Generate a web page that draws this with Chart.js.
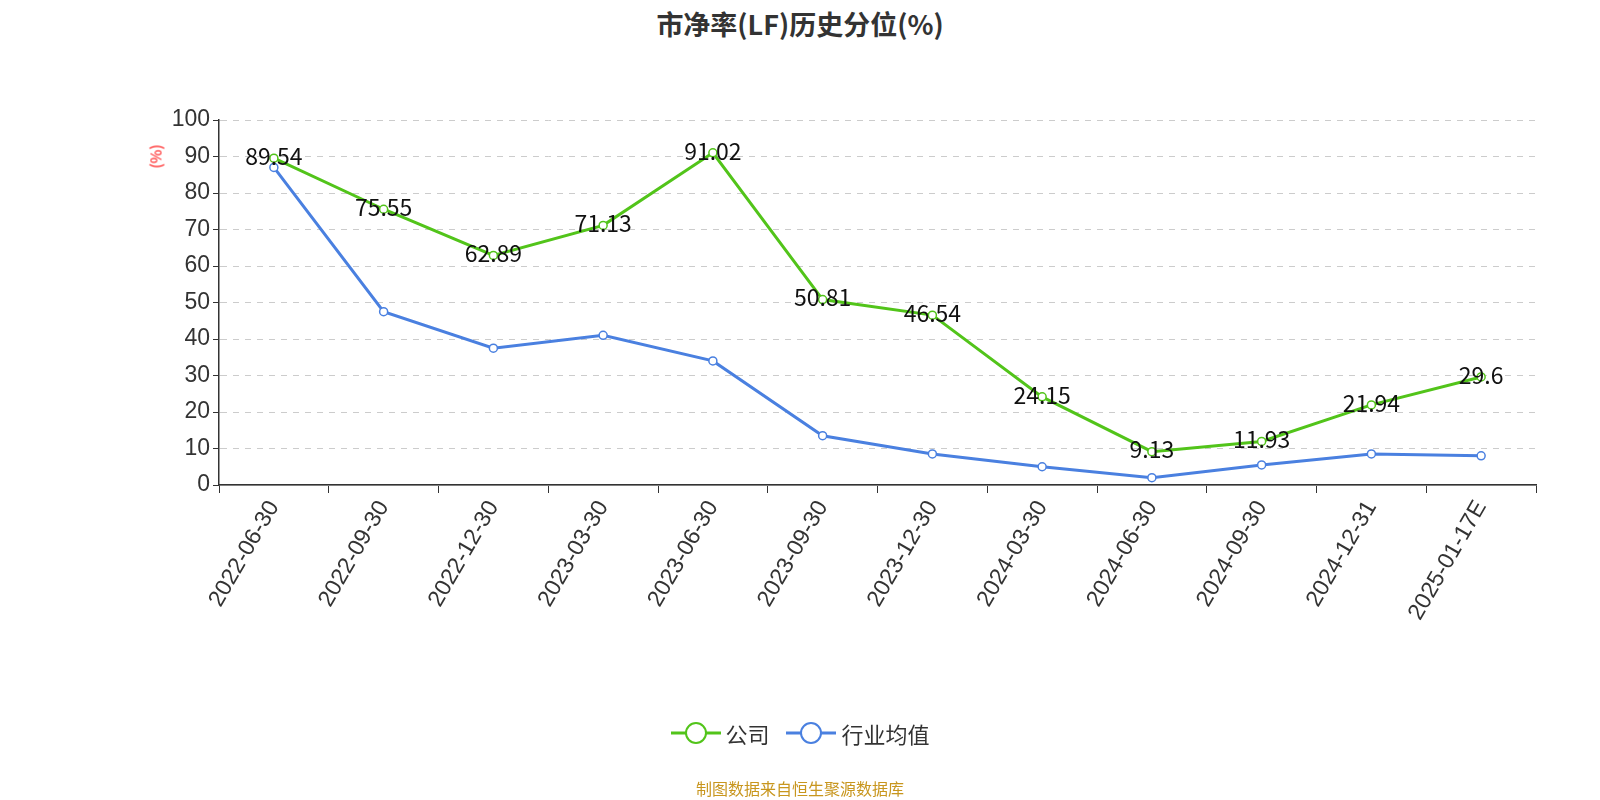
<!DOCTYPE html>
<html><head><meta charset="utf-8">
<script src="https://cdn.jsdelivr.net/npm/chart.js@4/dist/chart.umd.min.js"></script>
<style>
body{margin:0;width:1600px;height:800px;background:#fff;font-family:"Noto Sans CJK SC","Noto Sans",sans-serif;position:relative;overflow:hidden}
#t{position:absolute;top:4px;width:1600px;text-align:center;font-size:27px;font-weight:bold;color:#333}
#lg{position:absolute;top:717px;width:1600px;text-align:center;font-size:22px;color:#333}
#lg span{display:inline-flex;align-items:center;margin:0 6px}
#src{position:absolute;top:776px;width:1600px;text-align:center;font-size:16px;color:#c8961e}
#yl{position:absolute;left:143px;top:146px;color:red;font-size:15px;transform:rotate(-90deg);transform-origin:center}
</style></head><body>
<div id="t">市净率(LF)历史分位(%)</div>
<canvas id="c" width="1600" height="800" style="position:absolute;left:0;top:0"></canvas>
<div id="yl">(%)</div>
<div id="lg">
<span><svg width="50" height="26"><line x1="0" y1="13" x2="50" y2="13" stroke="#52c41a" stroke-width="3"/><circle cx="25" cy="13" r="10" fill="#fff" stroke="#52c41a" stroke-width="2"/></svg>&nbsp;公司</span>
<span><svg width="50" height="26"><line x1="0" y1="13" x2="50" y2="13" stroke="#4a80e0" stroke-width="3"/><circle cx="25" cy="13" r="10" fill="#fff" stroke="#4a80e0" stroke-width="2"/></svg>&nbsp;行业均值</span>
</div>
<div id="src">制图数据来自恒生聚源数据库</div>
<script>
const categories=["2022-06-30","2022-09-30","2022-12-30","2023-03-30","2023-06-30","2023-09-30","2023-12-30","2024-03-30","2024-06-30","2024-09-30","2024-12-31","2025-01-17E"];
const company=[89.54,75.55,62.89,71.13,91.02,50.81,46.54,24.15,9.13,11.93,21.94,29.6];
const industry=[87,47.5,37.5,41,34,13.5,8.5,5,2,5.5,8.5,8];
const labelPlugin={id:'lbl',afterDatasetsDraw(ch){const c=ch.ctx;const m=ch.getDatasetMeta(0);c.save();c.font='23px "Noto Sans CJK SC",sans-serif';c.fillStyle='#111';c.textAlign='center';c.textBaseline='middle';m.data.forEach((p,i)=>c.fillText(String(company[i]),p.x,p.y-2));c.restore();}};
new Chart(document.getElementById('c'),{type:'line',
data:{labels:categories,datasets:[
{data:company,borderColor:'#52c41a',backgroundColor:'#fff',borderWidth:3,pointRadius:4,pointBorderWidth:1.5,tension:0},
{data:industry,borderColor:'#4a80e0',backgroundColor:'#fff',borderWidth:3,pointRadius:4,pointBorderWidth:1.5,tension:0}]},
options:{responsive:false,animation:false,
layout:{padding:{left:152,right:64,top:120,bottom:115}},
plugins:{legend:{display:false},title:{display:false},tooltip:{enabled:false}},
scales:{
x:{offset:true,afterFit(s){s.height=200},grid:{display:true,drawOnChartArea:false,drawTicks:true,tickLength:8,offset:true,color:'#333'},border:{color:'#333',width:1.5},
ticks:{maxRotation:60,minRotation:60,color:'#333',font:{size:23}}},
y:{min:0,max:100,afterFit(s){s.width=67},ticks:{stepSize:10,color:'#333',font:{size:23}},border:{color:'#333',width:1.5},
grid:{color:'#ccc',tickLength:6,tickColor:'#333'},border:{color:'#333',width:1.5,dash:[0]}}
}},plugins:[labelPlugin,{id:'dash',beforeDatasetsDraw(ch){const c=ch.ctx,a=ch.chartArea,y=ch.scales.y;c.save();c.strokeStyle='#fff';c.lineWidth=2;c.setLineDash([6,6]);c.lineDashOffset=6;for(let v=10;v<=100;v+=10){const py=y.getPixelForValue(v);c.beginPath();c.moveTo(a.left+2,py);c.lineTo(a.right,py);c.stroke();}c.restore();}}]});
</script>
</body></html>
